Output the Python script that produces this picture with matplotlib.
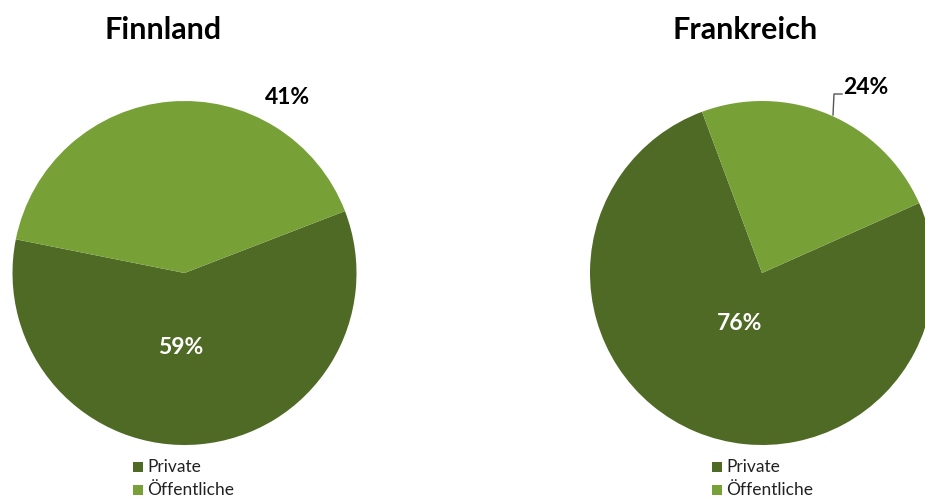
import numpy as np
import matplotlib.pyplot as plt
from matplotlib.patches import Rectangle

plt.rcParams['font.family'] = ['Lato', 'DejaVu Sans']

# daten
laender = ['Finnland', 'Frankreich']
kategorien = ['Private', 'Öffentliche']
anteil_private = [59, 76]
anteil_oeffentlich = [41, 24]
startwinkel = [168.7, 110.4]

farben = ['#4f6a24', '#77a037']

fig = plt.figure(figsize=(9.25, 5), dpi=100)
ax = fig.add_axes([0, 0, 1, 1])

# mittelpunkte und radius in pixeln (y von unten)
mitten = [(184.5, 227), (762, 227)]
radius = 172
titel_x = [163.5, 745]
innen_r = [0.43, 0.31]
innen_dx = [-10, -2]

for i, land in enumerate(laender):
    werte = [anteil_private[i], anteil_oeffentlich[i]]
    cx, cy = mitten[i]
    wedges, _ = ax.pie(werte, colors=farben, startangle=startwinkel[i],
                       center=(cx, cy), radius=radius, frame=True,
                       wedgeprops=dict(linewidth=0))

    # titel
    ax.text(titel_x[i], 470, land, ha='center', va='center',
            fontsize=22, fontweight='bold', color='black')

    # innenlabel (private)
    w = wedges[0]
    mid = np.deg2rad((w.theta1 + w.theta2) / 2)
    ax.text(cx + innen_r[i] * radius * np.cos(mid) + innen_dx[i],
            cy + innen_r[i] * radius * np.sin(mid) - 1,
            f'{anteil_private[i]}%', ha='center', va='center',
            fontsize=16.5, fontweight='bold', color='white')

    # aussenlabel (oeffentliche)
    if i == 0:
        ax.text(cx + 103, 402, f'{anteil_oeffentlich[i]}%', ha='center',
                va='center', fontsize=16.5, fontweight='bold', color='black')
    else:
        ax.plot([cx + 71, cx + 72, cx + 80], [385, 406, 406], color='#555555', lw=1)
        ax.text(cx + 81, 412, f'{anteil_oeffentlich[i]}%', ha='left',
                va='center', fontsize=16.5, fontweight='bold', color='black')

    # legende
    lx = 133 if i == 0 else 712
    for j, kat in enumerate(kategorien):
        y = 33 - j * 23
        ax.add_patch(Rectangle((lx, y - 5), 10, 10, color=farben[j], lw=0))
        ax.text(lx + 14, y, kat, ha='left', va='center', fontsize=12.5, color='#222222')

ax.set_xlim(0, 925)
ax.set_ylim(0, 500)
ax.set_aspect('auto')
ax.axis('off')

plt.savefig('out.png', dpi=100)
